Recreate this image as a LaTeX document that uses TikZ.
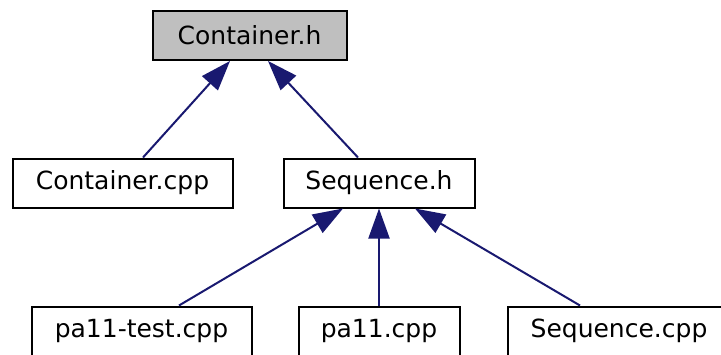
\documentclass[tikz,border=0pt]{standalone}
\usepackage{fontspec}
\setmainfont{DejaVu Sans}
\usetikzlibrary{arrows.meta}
\definecolor{nodegray}{HTML}{BFBFBF}
\definecolor{edgeblue}{HTML}{191970}
\begin{document}
\begin{tikzpicture}[x=1pt, y=-1pt, font=\fontsize{25}{30}\selectfont,
	file/.style={draw=black, line width=2pt, fill=white, inner sep=0pt, minimum height=49pt},
	edge/.style={draw=edgeblue, line width=2pt, -{Triangle[length=30pt,width=21pt]}}]
			
			\clip (0,0) rectangle (721,354);
			% include graph
			\node[file, fill=nodegray, minimum width=194pt] (cont_h) at (249.5,35.5) {Container.h};
			\node[file, minimum width=220pt] (cont_cpp) at (122.5,183) {Container.cpp};
			\node[file, minimum width=191pt] (seq_h) at (379,183) {Sequence.h};
			\node[file, minimum width=220pt] (test_cpp) at (141.5,331) {pa11-test.cpp};
			\node[file, minimum width=161pt] (pa_cpp) at (379,331) {pa11.cpp};
			\node[file, minimum width=223pt] (seq_cpp) at (619,331) {Sequence.cpp};
			
			\draw[edge] ([xshift=20.5pt]cont_cpp.north) -- ([xshift=-19.5pt]cont_h.south);
			\draw[edge] ([xshift=-21pt]seq_h.north) -- ([xshift=18.5pt]cont_h.south);
			\draw[edge] ([xshift=37.5pt]test_cpp.north) -- ([xshift=-36pt]seq_h.south);
			\draw[edge] (pa_cpp.north) -- (seq_h.south);
			\draw[edge] ([xshift=-39pt]seq_cpp.north) -- ([xshift=36pt]seq_h.south);
			\end{tikzpicture}
\end{document}
